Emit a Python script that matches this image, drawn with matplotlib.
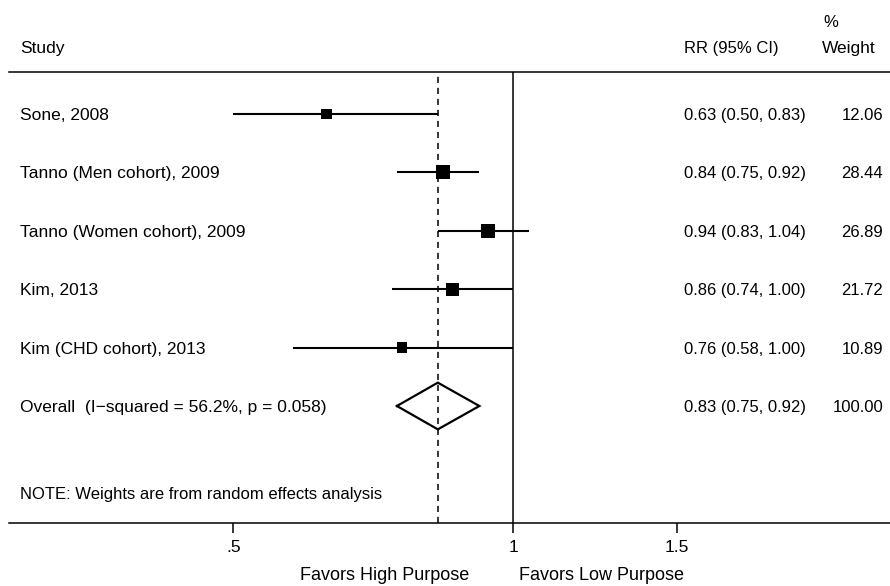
import numpy as np
import matplotlib
matplotlib.use("Agg")
import matplotlib.pyplot as plt
from matplotlib.transforms import blended_transform_factory

plt.rcParams["font.family"] = ["Liberation Sans", "DejaVu Sans"]
plt.rcParams["font.size"] = 12.5

# study data
studies = ["Sone, 2008", "Tanno (Men cohort), 2009", "Tanno (Women cohort), 2009",
           "Kim, 2013", "Kim (CHD cohort), 2013"]
rr = [0.63, 0.84, 0.94, 0.86, 0.76]
lo = [0.50, 0.75, 0.83, 0.74, 0.58]
hi = [0.83, 0.92, 1.04, 1.00, 1.00]
weights = [12.06, 28.44, 26.89, 21.72, 10.89]

overall_label = "Overall  (I\u2212squared = 56.2%, p = 0.058)"
overall_rr, overall_lo, overall_hi = 0.83, 0.75, 0.92
overall_weight = 100.00

note = "NOTE: Weights are from random effects analysis"
xticks = [0.5, 1, 1.5]
xtick_labels = [".5", "1", "1.5"]

W, H = 890, 586
fig = plt.figure(figsize=(W / 100, H / 100), dpi=100)

# plot area in pixels: left 9, right 890, top line 72, axis line 523
ax = fig.add_axes([9 / W, (H - 523) / H, (890 - 9) / W, (523 - 72) / H])
ax.set_xscale("log")
# 1 sits at 513 px, 403.5 px per log unit
ax.set_xlim(np.exp((9 - 513) / 403.5), np.exp((890 - 513) / 403.5))
row0, step = 114, 58.4
ax.set_ylim((523 - row0) / step, (72 - row0) / step)

rows = np.arange(len(studies))
overall_row = len(studies)
note_row = (493 - row0) / step

ax.axvline(1, color="black", lw=1.1)
ax.axvline(overall_rr, color="black", lw=1.1, ls=(0, (4, 3.2)))

ax.hlines(rows, lo, hi, color="black", lw=1.5)
side_px = 4 + 1.9 * np.sqrt(weights)
ax.scatter(rr, rows, marker="s", s=(side_px * 0.72) ** 2, color="black", lw=0, zorder=3)

h = 0.4
ax.plot([overall_lo, overall_rr, overall_hi, overall_rr, overall_lo],
        [overall_row, overall_row - h, overall_row, overall_row + h, overall_row],
        color="black", lw=1.6, solid_joinstyle="miter")

for s in ["left", "right"]:
    ax.spines[s].set_visible(False)
ax.spines["top"].set_linewidth(1.1)
ax.spines["bottom"].set_linewidth(1.1)
ax.set_yticks([])
ax.minorticks_off()
ax.set_xticks(xticks)
ax.set_xticklabels(xtick_labels)
ax.tick_params(axis="x", which="both", length=7, width=1.1, pad=5, labelsize=12.5)

tr = blended_transform_factory(fig.transFigure, ax.transData)

def fx(px):
    return px / W

def fy(py):
    return 1 - py / H

for i, name in enumerate(studies):
    ax.text(fx(20), i, name, transform=tr, va="center_baseline", ha="left")
    ax.text(fx(684), i, f"{rr[i]:.2f} ({lo[i]:.2f}, {hi[i]:.2f})",
            transform=tr, va="center_baseline", ha="left", fontsize=12)
    ax.text(fx(883), i, f"{weights[i]:.2f}", transform=tr,
            va="center_baseline", ha="right", fontsize=12)

ax.text(fx(20), overall_row, overall_label, transform=tr, va="center_baseline")
ax.text(fx(684), overall_row, f"{overall_rr:.2f} ({overall_lo:.2f}, {overall_hi:.2f})",
        transform=tr, va="center_baseline", fontsize=12)
ax.text(fx(883), overall_row, f"{overall_weight:.2f}", transform=tr,
        va="center_baseline", ha="right", fontsize=12)
ax.text(fx(20), note_row, note, transform=tr, va="center_baseline", fontsize=12)

# header
fig.text(fx(20), fy(47), "Study", va="center_baseline")
fig.text(fx(684), fy(47), "RR (95% CI)", va="center_baseline", fontsize=12)
fig.text(fx(823), fy(21), "%", va="center_baseline", fontsize=12)
fig.text(fx(822), fy(47), "Weight", va="center_baseline", fontsize=12.5)

# favours labels
fig.text(fx(469), fy(580), "Favors High Purpose", ha="right", va="baseline", fontsize=13)
fig.text(fx(519), fy(580), "Favors Low Purpose", ha="left", va="baseline", fontsize=13)

fig.savefig("out.png", dpi=100, facecolor="white")
